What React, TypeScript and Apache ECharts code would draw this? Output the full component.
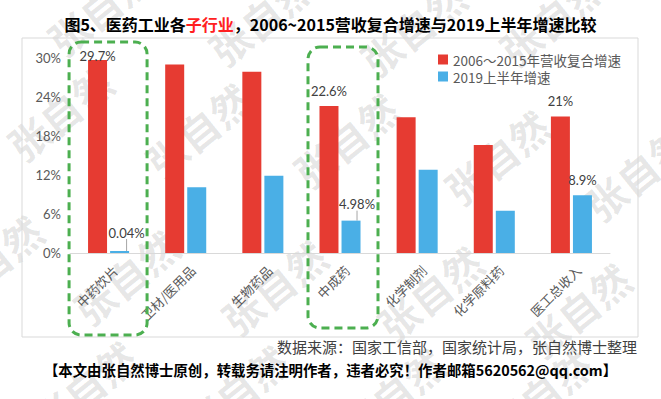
import React, { useEffect, useRef } from "react";
import * as echarts from "echarts";

const categories = ["中药饮片", "卫材/医用品", "生物药品", "中成药", "化学制剂", "化学原料药", "医工总收入"];
const seriesNames = ["2006～2015年营收复合增速", "2019上半年增速"];
const growth0615 = [29.7, 29.0, 27.9, 22.6, 20.9, 16.6, 21.0];
const growth2019H1 = [0.04, 10.1, 11.9, 4.98, 12.8, 6.5, 8.9];
const labeledIdx = [0, 3, 6];
const leaderIdx = [0, 3];
const highlightIdx = [0, 3];
const yTicks = [0, 6, 12, 18, 24, 30];

const titlePre = "图5、医药工业各";
const titleRed = "子行业";
const titlePost = "，2006~2015营收复合增速与2019上半年增速比较";
const sourceText = "数据来源：国家工信部，国家统计局，张自然博士整理";
const footerText = "【本文由张自然博士原创，转载务请注明作者，违者必究！作者邮箱5620562@qq.com】";
const watermarkText = "张自然";

const RED = "#E63B32";
const BLUE = "#4AAFE6";
const GRAY_TXT = "#595959";
const CJK = "'Noto Sans CJK SC', 'Noto Sans', sans-serif";
const NUM = "Lato, 'Noto Sans CJK SC', sans-serif";

const wmPos: number[][] = [
  [100, 8], [261, 18], [413, 28], [552, 18],
  [60, 113], [198, 130], [346, 140], [497, 157], [637, 173],
  [-10, 262], [126, 277], [274, 287], [430, 293], [578, 310],
  [84, 388], [236, 392], [392, 395], [540, 395],
];

export default function App() {
  const ref = useRef<HTMLDivElement>(null);
  useEffect(() => {
    document.body.style.margin = "0";
    const chart = echarts.init(ref.current!, null, { renderer: "svg" });

    const labelFor = (idx: number, dist: number) => ({
      show: labeledIdx.includes(idx),
      position: "top",
      distance: dist,
      formatter: (p: any) => `${p.value}%`,
      color: "#404040",
      fontSize: 13,
      fontFamily: NUM,
    });

    const redData = growth0615.map((v, i) => ({
      value: v,
      label: labelFor(i, i === 0 ? -3 : 9),
      labelLine: { show: false },
    }));
    const blueData = growth2019H1.map((v, i) => ({
      value: v,
      label: labelFor(i, i === 6 ? 9 : 5),
      labelLine: {
        show: leaderIdx.includes(i),
        lineStyle: { color: "#a6a6a6", width: 1 },
      },
    }));

    const watermarks = wmPos.map(([x, y]) => ({
      type: "text",
      x,
      y,
      rotation: 0.68,
      z: 0,
      silent: true,
      style: {
        text: watermarkText,
        fontSize: 40,
        fontWeight: "bold",
        fontFamily: CJK,
        fill: "rgba(0,0,0,0.1)",
        align: "center",
        verticalAlign: "middle",
      },
    }));

    const option: any = {
      animation: false,
      backgroundColor: "#fff",
      title: {
        left: "center",
        top: 11,
        text: `{a|${titlePre}}{r|${titleRed}}{a|${titlePost}}`,
        textStyle: {
          rich: {
            a: { fontSize: 16, fontWeight: "bold", fontFamily: CJK, color: "#000" },
            r: { fontSize: 16, fontWeight: "bold", fontFamily: CJK, color: "#FF2020" },
          },
        },
      },
      legend: {
        orient: "vertical",
        left: 433,
        top: 46,
        itemWidth: 10,
        itemHeight: 10,
        itemGap: 0,
        icon: "rect",
        data: seriesNames,
        textStyle: { fontSize: 13.5, fontFamily: CJK, color: GRAY_TXT, lineHeight: 17 },
      },
      grid: [
        { left: 70, right: 51, top: 58, bottom: 146 },
        { left: 77, right: 44, top: 58, bottom: 146 },
      ],
      xAxis: [
        {
          type: "category",
          gridIndex: 0,
          data: categories,
          axisLine: { lineStyle: { color: "#d9d9d9", width: 1 } },
          axisTick: { show: false },
          axisLabel: { show: false },
        },
        {
          type: "category",
          gridIndex: 1,
          data: categories,
          axisLine: { show: false },
          axisTick: { show: false },
          axisLabel: {
            rotate: 45,
            margin: 15,
            color: GRAY_TXT,
            fontSize: 13,
            fontFamily: CJK,
          },
        },
      ],
      yAxis: [
        {
          type: "value",
          gridIndex: 0,
          min: yTicks[0],
          max: yTicks[yTicks.length - 1],
          interval: yTicks[1] - yTicks[0],
          axisLine: { show: false },
          axisTick: { show: false },
          splitLine: { show: false },
          axisLabel: {
            formatter: "{value}%",
            color: GRAY_TXT,
            fontSize: 13,
            fontFamily: NUM,
            margin: 9,
          },
        },
        {
          type: "value",
          gridIndex: 1,
          min: yTicks[0],
          max: yTicks[yTicks.length - 1],
          show: false,
        },
      ],
      series: [
        {
          name: seriesNames[0],
          type: "bar",
          xAxisIndex: 0,
          yAxisIndex: 0,
          barWidth: 19,
          barGap: "16%",
          itemStyle: { color: RED },
          data: redData,
        },
        {
          name: seriesNames[1],
          type: "bar",
          xAxisIndex: 0,
          yAxisIndex: 0,
          barWidth: 19,
          barGap: "16%",
          barMinHeight: 2,
          itemStyle: { color: BLUE },
          data: blueData,
          labelLayout: (p: any) => {
            if (p.dataIndex === 0) return { dx: 7, dy: -7 };
            if (p.dataIndex === 3) return { dx: 6, dy: -5 };
            return {};
          },
        },
      ],
      graphic: [
        ...watermarks,
        {
          type: "rect",
          z: 1,
          silent: true,
          shape: { x: 22, y: 38, width: 616, height: 299 },
          style: { fill: "none", stroke: "#d9d9d9", lineWidth: 1 },
        },
        {
          type: "text",
          right: 661 - 637,
          top: 339,
          style: { text: sourceText, fontSize: 15, fontFamily: CJK, fill: "#404040" },
        },
        {
          type: "text",
          left: "center",
          top: 362,
          style: { text: footerText, fontSize: 14.4, fontWeight: "bold", fontFamily: CJK, fill: "#000" },
        },
      ],
    };
    chart.setOption(option);

    // Dashed highlight boxes around selected categories, positioned from the axis scale
    const boxes = highlightIdx.map((ci, k) => {
      const [cx] = chart.convertToPixel({ seriesIndex: 0 }, [ci, 0]) as number[];
      const x0 = k === 0 ? cx - 39.5 : cx - 32;
      const x1 = k === 0 ? cx + 38.5 : cx + 38;
      const y0 = k === 0 ? 42 : 47;
      const y1 = k === 0 ? 335 : 328;
      return {
        type: "rect",
        z: 100,
        silent: true,
        shape: { x: x0, y: y0, width: x1 - x0, height: y1 - y0, r: 12 },
        style: { fill: "none", stroke: "#4CAF50", lineWidth: 3, lineDash: [8, 5] },
      };
    });
    chart.setOption({ graphic: [...option.graphic, ...boxes] });

    return () => chart.dispose();
  }, []);
  return <div ref={ref} style={{ width: 661, height: 399 }} />;
}
